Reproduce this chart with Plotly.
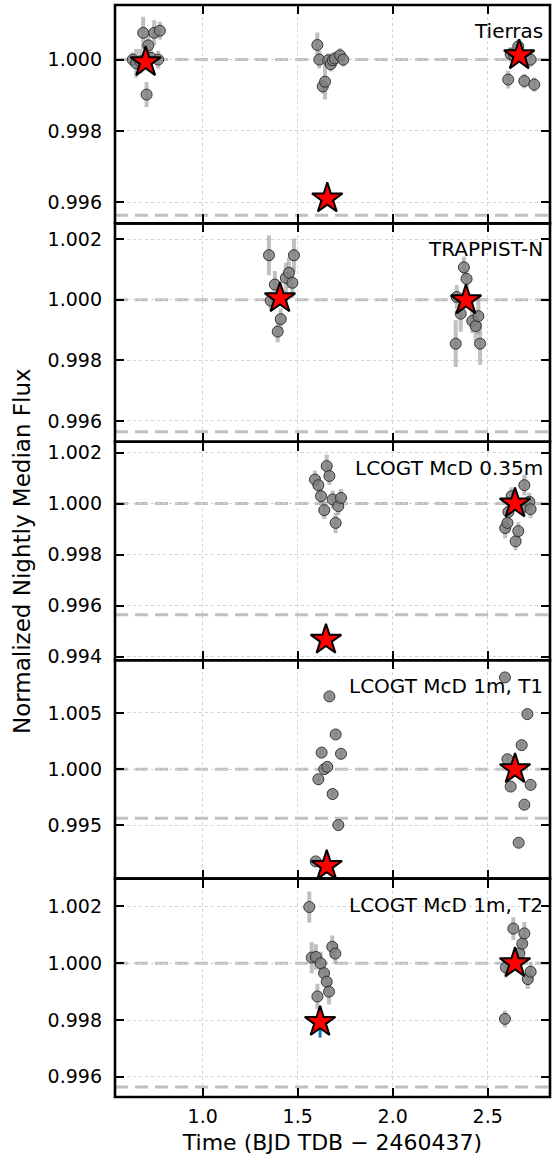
import plotly.graph_objects as go
from plotly.subplots import make_subplots

# ---------------- data ----------------
panel_names = ["Tierras", "TRAPPIST-N", "LCOGT McD 0.35m", "LCOGT McD 1m, T1", "LCOGT McD 1m, T2"]

# Tierras
t_tierras = [0.632, 0.650, 0.672, 0.687, 0.705, 0.714, 0.728, 0.745, 0.766, 0.775,
             1.6035, 1.614, 1.632, 1.644, 1.661, 1.674, 1.685, 1.696, 1.723, 1.740,
             2.608, 2.621, 2.640, 2.661, 2.693, 2.726, 2.745]
f_tierras = [1.00000, 0.99990, 0.99995, 1.00075, 0.99902, 1.00040, 1.00005, 1.00075, 1.00000, 1.00081,
             1.00041, 1.00000, 0.99925, 0.99938, 0.99998, 0.99987, 0.99998, 1.00003, 1.00012, 1.00000,
             0.99944, 1.00015, 1.00010, 1.00037, 0.99940, 1.00000, 0.99930]
e_tierras = [0.00020, 0.00040, 0.00035, 0.00045, 0.00035, 0.00035, 0.00030, 0.00035, 0.00025, 0.00025,
             0.00035, 0.00025, 0.00020, 0.00050, 0.00020, 0.00020, 0.00020, 0.00020, 0.00020, 0.00020,
             0.00025, 0.00020, 0.00020, 0.00020, 0.00020, 0.00020, 0.00020]
ts_tierras = [0.700, 1.656, 2.666]
fs_tierras = [0.99993, 0.99611, 1.00012]
es_tierras = [0.00008, 0.00008, 0.00008]

# TRAPPIST-N
t_trappist = [1.349, 1.358, 1.380, 1.395, 1.411, 1.438, 1.454, 1.472, 1.4805,
              2.332, 2.337, 2.358, 2.375, 2.389, 2.419, 2.437, 2.451, 2.460]
f_trappist = [1.00147, 0.99997, 1.00050, 0.99895, 0.99936, 1.00072, 1.00089, 1.00056, 1.00147,
              0.99855, 1.00009, 0.99954, 1.00107, 1.00069, 0.99930, 0.99913, 0.99946, 0.99855]
e_trappist = [0.00066, 0.00030, 0.00045, 0.00035, 0.00035, 0.00050, 0.00050, 0.00050, 0.00055,
              0.00077, 0.00040, 0.00060, 0.00035, 0.00030, 0.00040, 0.00050, 0.00060, 0.00070]
ts_trappist = [1.407, 2.386]
fs_trappist = [1.00005, 0.99998]
es_trappist = [0.00010, 0.00010]

# LCOGT McD 0.35m
t_mcd035 = [1.591, 1.609, 1.623, 1.640, 1.653, 1.667, 1.684, 1.700, 1.714, 1.728,
            2.592, 2.604, 2.609, 2.626, 2.647, 2.661, 2.688, 2.693, 2.719, 2.726]
f_mcd035 = [1.00094, 1.00072, 1.00029, 0.99974, 1.00147, 1.00108, 1.00016, 0.99924, 0.99990, 1.00022,
            0.99904, 0.99924, 0.99967, 1.00029, 0.99852, 0.99892, 0.99987, 1.00072, 1.00007, 0.99978]
e_mcd035 = [0.00035, 0.00035, 0.00035, 0.00035, 0.00045, 0.00035, 0.00035, 0.00040, 0.00035, 0.00035,
            0.00040, 0.00040, 0.00040, 0.00035, 0.00035, 0.00035, 0.00035, 0.00040, 0.00035, 0.00035]
ts_mcd035 = [1.649, 2.644]
fs_mcd035 = [0.99466, 1.00000]
es_mcd035 = [0.00020, 0.00015]

# LCOGT McD 1m, T1
t_mcd1t1 = [1.595, 1.609, 1.626, 1.640, 1.656, 1.667, 1.684, 1.700, 1.714, 1.728,
            2.591, 2.604, 2.621, 2.663, 2.679, 2.693, 2.709, 2.726]
f_mcd1t1 = [0.99181, 0.99911, 1.00148, 1.00000, 1.00021, 1.00647, 0.99780, 1.00309, 0.99504, 1.00137,
            1.00816, 1.00089, 0.99846, 0.99347, 1.00214, 0.99685, 1.00490, 0.99861]
e_mcd1t1 = [0.0003] * len(t_mcd1t1)
ts_mcd1t1 = [1.653, 2.644]
fs_mcd1t1 = [0.99140, 1.00000]
es_mcd1t1 = [0.0003, 0.0003]

# LCOGT McD 1m, T2
t_mcd1t2 = [1.561, 1.574, 1.596, 1.604, 1.621, 1.639, 1.653, 1.665, 1.682, 1.698,
            2.591, 2.596, 2.635, 2.667, 2.682, 2.693, 2.711, 2.726]
f_mcd1t2 = [1.00198, 1.00020, 1.00022, 0.99883, 1.00000, 0.99965, 0.99935, 0.99900, 1.00058, 1.00034,
            0.99804, 0.99985, 1.00122, 1.00035, 1.00069, 1.00105, 0.99944, 0.99970]
e_mcd1t2 = [0.00055, 0.00055, 0.00045, 0.00045, 0.00040, 0.00040, 0.00040, 0.00045, 0.00040, 0.00035,
            0.00030, 0.00035, 0.00040, 0.00035, 0.00035, 0.00040, 0.00035, 0.00035]
ts_mcd1t2 = [1.618, 2.644]
fs_mcd1t2 = [0.99793, 1.00000]
es_mcd1t2 = [0.00055, 0.00020]

baseline_level = 1.0
transit_level = 0.99564

y_ranges = [[0.99541, 1.00153], [0.99531, 1.00252], [0.99386, 1.00242],
            [0.99028, 1.00969], [0.99529, 1.00298]]
y_ticks = [[0.996, 0.998, 1.000], [0.996, 0.998, 1.000, 1.002],
           [0.994, 0.996, 0.998, 1.000, 1.002], [0.995, 1.000, 1.005],
           [0.996, 0.998, 1.000, 1.002]]
x_range = [0.5387, 2.828]
x_ticks = [1.0, 1.5, 2.0, 2.5]

panels = [
    (t_tierras, f_tierras, e_tierras, ts_tierras, fs_tierras, es_tierras),
    (t_trappist, f_trappist, e_trappist, ts_trappist, fs_trappist, es_trappist),
    (t_mcd035, f_mcd035, e_mcd035, ts_mcd035, fs_mcd035, es_mcd035),
    (t_mcd1t1, f_mcd1t1, e_mcd1t1, ts_mcd1t1, fs_mcd1t1, es_mcd1t1),
    (t_mcd1t2, f_mcd1t2, e_mcd1t2, ts_mcd1t2, fs_mcd1t2, es_mcd1t2),
]

# ---------------- figure ----------------
FONT = "DejaVu Sans"
fig = make_subplots(rows=5, cols=1, shared_xaxes=True, vertical_spacing=0)

for i, (t, f, e, ts, fs, es) in enumerate(panels):
    row = i + 1
    fig.add_trace(go.Scatter(
        x=t, y=f, mode="markers",
        error_y=dict(type="data", array=e, visible=True, thickness=4, width=0,
                     color="rgba(150,150,150,0.6)"),
        marker=dict(size=11, color="rgba(128,128,128,0.85)",
                    line=dict(color="rgba(40,40,40,0.9)", width=1)),
        showlegend=False, hoverinfo="skip"), row=row, col=1)
    fig.add_trace(go.Scatter(
        x=ts, y=fs, mode="markers",
        error_y=dict(type="data", array=es, visible=True, thickness=3, width=0,
                     color="#1f77b4"),
        marker=dict(symbol="star", size=23, color="red",
                    line=dict(color="black", width=2)),
        showlegend=False, hoverinfo="skip"), row=row, col=1)

    sfx = "" if row == 1 else str(row)
    for lvl in (baseline_level, transit_level):
        fig.add_shape(type="line", xref=f"x{sfx} domain", yref=f"y{sfx}",
                      x0=0, x1=1, y0=lvl, y1=lvl, layer="below",
                      line=dict(color="#c0c0c0", width=3, dash="13px,7px"))
    # panel frame
    fig.add_shape(type="rect", xref=f"x{sfx} domain", yref=f"y{sfx} domain",
                  x0=0, x1=1, y0=0, y1=1, layer="above",
                  line=dict(color="black", width=2.6), fillcolor="rgba(0,0,0,0)")
    fig.add_annotation(text=panel_names[i], xref=f"x{sfx} domain", yref=f"y{sfx} domain",
                       x=0.9885, y=0.881, xanchor="right", yanchor="middle",
                       showarrow=False, font=dict(family=FONT, size=20, color="black"))

    fig.update_yaxes(row=row, col=1, range=y_ranges[i], tickvals=y_ticks[i],
                     tickformat=".3f")

fig.update_xaxes(range=x_range, tickvals=x_ticks, tickformat=".1f",
                 ticks="inside", ticklen=9, tickwidth=2, tickcolor="black",
                 mirror="ticks", showline=False,
                 showgrid=True, gridcolor="#d3d3d3", gridwidth=1, griddash="dot",
                 zeroline=False, tickfont=dict(family=FONT, size=19, color="black"))
fig.update_yaxes(ticks="inside", ticklen=9, tickwidth=2, tickcolor="black",
                 mirror="ticks", showline=False,
                 showgrid=True, gridcolor="#d3d3d3", gridwidth=1, griddash="dot",
                 zeroline=False, tickfont=dict(family=FONT, size=19, color="black"),
                 ticklabelstandoff=12)
fig.update_xaxes(row=5, col=1, ticklabelstandoff=6,
                 title=dict(text="Time (BJD TDB − 2460437)", standoff=8,
                            font=dict(family=FONT, size=22, color="black")))

fig.add_annotation(text="Normalized Nightly Median Flux", xref="paper", yref="paper",
                   x=-0.2138, y=0.5, xanchor="center", yanchor="middle", textangle=-90,
                   showarrow=False, font=dict(family=FONT, size=23, color="black"))

fig.update_layout(width=553, height=1163, margin=dict(l=115, r=3, t=5, b=66),
                  plot_bgcolor="white", paper_bgcolor="white",
                  font=dict(family=FONT, color="black"))

fig.write_html("out.html", config={"displayModeBar": False},
               post_script="document.body.style.margin='0';document.body.style.overflow='hidden';")
